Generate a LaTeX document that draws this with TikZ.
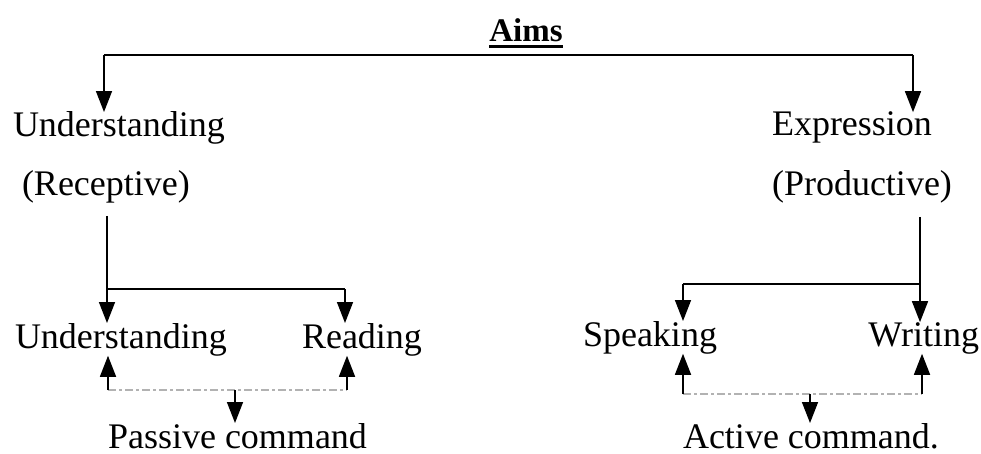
\documentclass[tikz,border=0pt]{standalone}
\usepackage{fontspec}
\setmainfont{Liberation Serif}
\usetikzlibrary{arrows.meta}
\tikzset{
  lbl/.style={inner sep=0pt, outer sep=0pt, anchor=base west, font=\fontsize{36}{40}\selectfont},
  ttl/.style={inner sep=0pt, outer sep=0pt, anchor=base, font=\fontsize{33}{36}\selectfont\bfseries},
  conn/.style={line width=1.5pt, black},
  arr/.style={conn, -{Triangle[length=21pt,width=16pt]}},
  dash line/.style={line width=1.1pt, gray!60, dash pattern=on 8pt off 3pt on 3pt off 3pt},
  ul/.style={line width=2.4pt, black}
}
\begin{document}
\begin{tikzpicture}[x=1pt,y=-1pt]
\useasboundingbox (0,0) rectangle (981,454);

% title
\node[ttl] (aims) at (526,42) {Aims};
\draw[ul] ([yshift=-4.5pt]aims.base west) -- ([yshift=-4.5pt]aims.base east);

% first level
\node[lbl] (u1) at (13,137) {Understanding};
\node[lbl] (ex) at (772,136) {Expression};
\node[lbl] (rec) at (22,196) {(Receptive)};
\node[lbl] (pro) at (772,196) {(Productive)};

\coordinate (j1) at (104,55);
\coordinate (j2) at (913,55);
\draw[conn] (j1) -- (j2);
\draw[arr] (j1) -- (j1 |- u1.north);
\draw[arr] (j2) -- (j2 |- ex.north);

% second level
\node[lbl] (u2) at (15,348) {Understanding};
\node[lbl] (rd) at (302,348) {Reading};
\node[lbl] (sp) at (583,346) {Speaking};
\node[lbl, anchor=base east] (wr) at (979,346) {Writing};

% left branch
\coordinate (v1) at (107,216);
\coordinate (h2) at (345,289);
\draw[arr] (v1) -- (v1 |- u2.north);
\draw[conn] (v1 |- h2) -- (h2);
\draw[arr] (h2) -- (h2 |- rd.north);

% right branch
\coordinate (v2) at (920,217);
\coordinate (h3) at (683,284);
\draw[arr] (v2) -- (v2 |- wr.north);
\draw[conn] (v2 |- h3) -- (h3);
\draw[arr] (h3) -- (h3 |- sp.north);

% bottom labels
\node[lbl] (pc) at (108,448) {Passive command};
\node[lbl] (ac) at (683,448) {Active command.};

% passive
\coordinate (p1) at (108,390);
\coordinate (p2) at (347,390);
\coordinate (p3) at (235,390);
\draw[dash line] (p1) -- (p2);
\draw[arr] (p1) -- (p1 |- u2.south);
\draw[arr] (p2) -- (p2 |- rd.south);
\draw[arr] (p3) -- (p3 |- pc.north);

% active
\coordinate (a1) at (683,394);
\coordinate (a2) at (922,394);
\coordinate (a3) at (810,394);
\draw[dash line] (a1) -- (a2);
\draw[arr] (a1) -- (a1 |- sp.south);
\draw[arr] (a2) -- (a2 |- wr.south);
\draw[arr] (a3) -- (a3 |- ac.north);
\end{tikzpicture}
\end{document}
